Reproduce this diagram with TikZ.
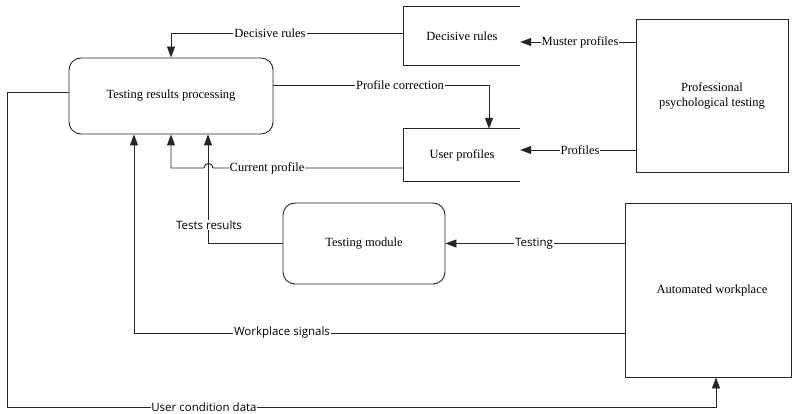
\documentclass[tikz,border=0pt]{standalone}
\usepackage{fontspec}
\setmainfont{Liberation Serif}
\newfontfamily\lblsans{Open Sans}
\usetikzlibrary{arrows.meta}
\begin{document}
\begin{tikzpicture}[x=1pt,y=-1pt,
  line/.style={draw=black!85,line width=0.9pt},
  arr/.style={line,-{Triangle[length=11pt,width=8pt]}},
  boxfont/.style={font=\fontsize{12.5}{15}\selectfont},
  proc/.style={line,boxfont,rounded corners=12pt,inner sep=0pt,align=center},
  ext/.style={line,boxfont,inner sep=0pt,align=center},
  store/.style={boxfont,inner sep=0pt},
  slbl/.style={fill=white,inner sep=1pt,font=\fontsize{12.5}{15}\selectfont},
  sslbl/.style={fill=white,inner sep=1pt,font=\lblsans\fontsize{11.5}{14}\selectfont}]
\useasboundingbox (0,0) rectangle (792,414);
% nodes
\node[proc,minimum width=204pt,minimum height=76pt] (trp) at (171,96) {Testing results processing};
\node[store,minimum width=116pt,minimum height=58pt] (dr) at (462,36) {Decisive rules};
\draw[line] (dr.north east) -- (dr.north west) -- (dr.south west) -- (dr.south east);
\node[store,minimum width=116pt,minimum height=52pt] (up) at (462,155) {User profiles};
\draw[line] (up.north east) -- (up.north west) -- (up.south west) -- (up.south east);
\node[ext,minimum width=152pt,minimum height=153pt] (ppt) at (712,95.5) {Professional\\psychological testing};
\node[proc,minimum width=162pt,minimum height=81pt] (tm) at (364,243.5) {Testing module};
\node[ext,minimum width=166pt,minimum height=174pt] (aw) at (708,290) {\hspace*{8pt}Automated workplace};
% connectors
\coordinate (ucd1) at (7,92);
\coordinate (ucd2) at (7,407.5);
\draw[arr] (dr.west |- 0,33) -| (trp.north);
\draw[arr] (ppt.west |- 0,42) -- (dr.east |- 0,42);
\draw[arr] (ppt.west |- 0,150) -- (up.east |- 0,150);
\draw[arr] (trp.east |- 0,85) -| ([xshift=27pt]up.north);
\draw[arr] (up.west |- 0,168) -- (213,168) .. controls (213,162) and (204,162) .. (204,168) -- (trp.south |- 0,168) -- (trp.south);
\draw[arr] (tm.west) -| ([xshift=37pt]trp.south);
\draw[arr] (aw.west |- tm.east) -- (tm.east);
\draw[arr] (aw.west |- 0,333) -| ([xshift=-37pt]trp.south);
\draw[arr] (trp.west |- ucd1) -- (ucd1) -- (ucd2) -| ([xshift=8pt]aw.south);
% labels
\node[slbl] (l1) at (270,33) {Decisive rules};
\node[slbl] (l2) at (580,42) {Muster profiles};
\node[slbl] (l3) at (580,150) {Profiles};
\node[slbl] (l4) at (400,85) {Profile correction};
\node[slbl] (l5) at (267,168) {Current profile};
\node[sslbl] (l6) at (209,225) {Tests results};
\node[sslbl] (l7) at (534,243.5) {Testing};
\node[sslbl] (l8) at (282,333) {Workplace signals};
\node[sslbl,inner sep=0.5pt] (l9) at (204,407.5) {User condition data};
\end{tikzpicture}
\end{document}
